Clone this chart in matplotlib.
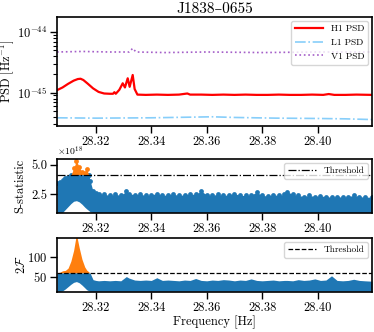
import numpy as np
import matplotlib
matplotlib.use("Agg")
import matplotlib.pyplot as plt
from matplotlib.ticker import FuncFormatter

plt.rcParams['font.family'] = ['cmr10', 'DejaVu Serif']
plt.rcParams['mathtext.fontset'] = 'cm'
plt.rcParams['axes.unicode_minus'] = False
plt.rcParams['axes.formatter.use_mathtext'] = True
plt.rcParams['font.size'] = 9

title = "J1838–0655"

# ---- PSD panel data ----
freq_h1 = [28.3060, 28.3080, 28.3100, 28.3120, 28.3135, 28.3145, 28.3155, 28.3170, 28.3190,
           28.3210, 28.3230, 28.3250, 28.3262, 28.3267, 28.3272, 28.3285, 28.3297, 28.3305,
           28.3315, 28.3322, 28.3333, 28.3340, 28.3350, 28.3380, 28.3420, 28.3460, 28.3500,
           28.3530, 28.3540, 28.3580, 28.3620, 28.3660, 28.3700, 28.3740, 28.3780, 28.3820,
           28.3860, 28.3900, 28.3940, 28.3980, 28.4020, 28.4040, 28.4060, 28.4100, 28.4140,
           28.4196]
psd_h1 = [1.10e-45, 1.22e-45, 1.40e-45, 1.58e-45, 1.68e-45, 1.70e-45, 1.62e-45, 1.42e-45, 1.18e-45,
          1.03e-45, 9.7e-46, 9.6e-46, 9.6e-46, 1.02e-45, 9.6e-46, 1.12e-45, 1.43e-45, 1.22e-45,
          1.73e-45, 1.25e-45, 1.96e-45, 1.15e-45, 9.3e-46, 9.2e-46, 9.3e-46, 9.2e-46, 9.3e-46,
          9.7e-46, 9.3e-46, 9.3e-46, 9.2e-46, 9.3e-46, 9.2e-46, 9.3e-46, 9.2e-46, 9.2e-46,
          9.3e-46, 9.2e-46, 9.2e-46, 9.3e-46, 9.2e-46, 9.5e-46, 9.2e-46, 9.2e-46, 9.3e-46,
          9.2e-46]

freq_l1 = [28.3060, 28.3200, 28.3400, 28.3550, 28.3620, 28.3700, 28.3850, 28.4000, 28.4100, 28.4196]
psd_l1 = [3.85e-46, 3.80e-46, 3.85e-46, 3.95e-46, 4.0e-46, 3.9e-46, 3.8e-46, 3.75e-46, 3.7e-46, 3.6e-46]

freq_v1 = [28.3060, 28.3150, 28.3250, 28.3320, 28.3333, 28.3345, 28.3450, 28.3600, 28.3800, 28.4000, 28.4196]
psd_v1 = [4.7e-45, 4.8e-45, 4.7e-45, 4.7e-45, 5.4e-45, 4.7e-45, 4.6e-45, 4.7e-45, 4.6e-45, 4.7e-45, 4.7e-45]

# ---- Statistic panels data (envelopes of dense point clouds) ----
freq_stat = [28.3060, 28.3070, 28.3080, 28.3090, 28.3100, 28.3110, 28.3120, 28.3130, 28.3140, 28.3150,
             28.3160, 28.3167, 28.3175, 28.3180, 28.3190, 28.3200, 28.3210, 28.3230, 28.3250, 28.3270,
             28.3290, 28.3310, 28.3320, 28.3340, 28.3360, 28.3380, 28.3400, 28.3420, 28.3440, 28.3460,
             28.3480, 28.3500, 28.3520, 28.3540, 28.3560, 28.3580, 28.3600, 28.3620, 28.3640, 28.3660,
             28.3680, 28.3700, 28.3720, 28.3740, 28.3760, 28.3780, 28.3800, 28.3820, 28.3840, 28.3860,
             28.3880, 28.3890, 28.3910, 28.3930, 28.3950, 28.3970, 28.3990, 28.4010, 28.4030, 28.4050,
             28.4070, 28.4090, 28.4110, 28.4130, 28.4150, 28.4170, 28.4196]
s_upper = [3.45, 3.5, 3.7, 3.85, 3.95, 4.1, 4.7, 5.37, 4.8, 4.4,
           4.35, 4.66, 4.1, 3.6, 2.75, 2.6, 2.55, 2.5, 2.4, 2.5,
           2.4, 2.75, 2.55, 2.45, 2.5, 2.4, 2.45, 2.55, 2.4, 2.45,
           2.5, 2.4, 2.45, 2.5, 2.5, 2.75, 2.45, 2.4, 2.5, 2.4,
           2.45, 2.55, 2.4, 2.4, 2.45, 2.65, 2.4, 2.35, 2.45, 2.4,
           2.5, 2.7, 2.5, 2.4, 2.3, 2.4, 2.3, 2.35, 2.3, 2.25,
           2.3, 2.25, 2.3, 2.4, 2.3, 2.25, 2.25]
s_lower = [0.95, 0.95, 0.95, 1.2, 1.45, 1.7, 1.9, 1.95, 1.85, 1.65,
           1.4, 1.25, 1.1, 1.0, 0.95, 0.95, 0.95, 0.95, 0.95, 0.95,
           0.95, 0.95, 0.95, 0.95, 0.95, 0.95, 0.95, 0.95, 0.95, 0.95,
           0.95, 0.95, 0.95, 0.95, 0.95, 0.95, 0.95, 0.95, 0.95, 0.95,
           0.95, 0.95, 0.95, 0.95, 0.95, 0.95, 0.95, 0.95, 0.95, 0.95,
           0.95, 0.95, 0.95, 0.95, 0.95, 0.95, 0.95, 0.95, 0.95, 0.95,
           0.95, 0.95, 0.95, 0.95, 0.95, 0.95, 0.95]
s_threshold = 4.17
s_scale = 1e18

f_upper = [60, 61, 65, 66, 72, 90, 118, 160, 125, 95,
           75, 67, 62, 58, 42, 40, 39, 40, 39, 40,
           39, 50, 46, 41, 40, 41, 40, 47, 40, 41,
           40, 39, 41, 40, 45, 40, 39, 41, 40, 42,
           41, 39, 41, 40, 44, 40, 39, 40, 41, 39,
           40, 40, 39, 42, 40, 41, 44, 40, 41, 52,
           40, 39, 40, 43, 40, 39, 38]
f_lower = [12, 12, 13, 18, 24, 30, 35, 37, 34, 28,
           21, 16, 13, 12, 12, 12, 12, 12, 12, 12,
           12, 12, 12, 12, 12, 12, 12, 12, 12, 12,
           12, 12, 12, 12, 12, 12, 12, 12, 12, 12,
           12, 12, 12, 12, 12, 12, 12, 12, 12, 12,
           12, 12, 12, 12, 12, 12, 12, 12, 12, 12,
           12, 12, 12, 12, 12, 12, 12]
f_threshold = 60

xticks = [28.32, 28.34, 28.36, 28.38, 28.40]
xlim = (28.306, 28.4196)

W, H = 374, 332
fig = plt.figure(figsize=(W / 100, H / 100), dpi=100)

def ax_px(left, top, right, bottom):
    return fig.add_axes([left / W, (H - bottom) / H, (right - left) / W, (bottom - top) / H])

ax1 = ax_px(57, 17, 372, 126)
ax2 = ax_px(57, 159, 372, 213)
ax3 = ax_px(57, 238, 372, 292)

blue = '#1f77b4'
orange = '#ff7f0e'
leg_fs = 6.8

# PSD
ax1.plot(freq_h1, psd_h1, color='red', lw=1.6, label='H1 PSD')
ax1.plot(freq_l1, psd_l1, color='#87cefa', lw=1.2, ls='-.', label='L1 PSD')
ax1.plot(freq_v1, psd_v1, color='#a45ec8', lw=1.2, ls=':', label='V1 PSD')
ax1.set_yscale('log')
ax1.set_ylim(10 ** -45.55, 10 ** -43.75)
ax1.set_ylabel(r'$\mathrm{PSD}\ [\mathrm{Hz}^{-1}]$')
ax1.yaxis.set_label_coords(-0.13, 0.5)
ax1.set_title(title, fontsize=11, pad=3)
ax1.legend(loc='upper right', fontsize=leg_fs, handlelength=3.0, borderaxespad=0.4,
           labelspacing=0.55)

# S-statistic
fs = np.array(freq_stat)
su = np.array(s_upper) * s_scale
sl = np.array(s_lower) * s_scale
st = s_threshold * s_scale
ax2.fill_between(fs, sl, np.minimum(su, st), color=blue, lw=0)
ax2.scatter(fs, np.minimum(su, st), s=12, color=blue, lw=0)
m = su > st
ax2.fill_between(fs, st, su, where=m, color=orange, lw=0, interpolate=True)
ax2.scatter(fs[m], su[m], s=12, color=orange, lw=0)
ax2.axhline(st, color='black', ls='-.', lw=0.9, label='Threshold')
ax2.set_ylim(0.9 * s_scale, 5.5 * s_scale)
ax2.set_yticks([2.5 * s_scale, 5.0 * s_scale])
ax2.yaxis.set_major_formatter(FuncFormatter(lambda v, p: f"{v / s_scale:.1f}"))
ax2.text(0.0, 1.01, r'$\times10^{18}$', transform=ax2.transAxes, fontsize=7,
         ha='left', va='bottom')
ax2.set_ylabel('S-statistic')
ax2.yaxis.set_label_coords(-0.098, 0.5)
ax2.legend(loc='upper right', fontsize=leg_fs, handlelength=3.0, borderaxespad=0.4)

# 2F
fu = np.array(f_upper, dtype=float)
fl = np.array(f_lower, dtype=float)
ax3.fill_between(fs, fl, np.minimum(fu, f_threshold), color=blue, lw=0)
m3 = fu > f_threshold
ax3.fill_between(fs, f_threshold, fu, where=m3, color=orange, lw=0, interpolate=True)
ax3.axhline(f_threshold, color='black', ls='--', lw=0.9, label='Threshold')
ax3.set_ylim(10, 150)
ax3.set_yticks([50, 100])
ax3.set_ylabel(r'$2\mathcal{F}$')
ax3.yaxis.set_label_coords(-0.092, 0.5)
ax3.set_xlabel('Frequency [Hz]', labelpad=1)
ax3.legend(loc='upper right', fontsize=leg_fs, handlelength=3.0, borderaxespad=0.4)

for ax in (ax1, ax2, ax3):
    ax.set_xlim(*xlim)
    ax.set_xticks(xticks)
    ax.set_xticklabels([f"{t:.2f}" for t in xticks])
    for s in ax.spines.values():
        s.set_linewidth(1.2)
    ax.tick_params(which='major', direction='out', length=5, width=1, pad=2)
    ax.tick_params(which='minor', direction='out', length=3, width=0.8)

fig.savefig('out.png', dpi=100)
